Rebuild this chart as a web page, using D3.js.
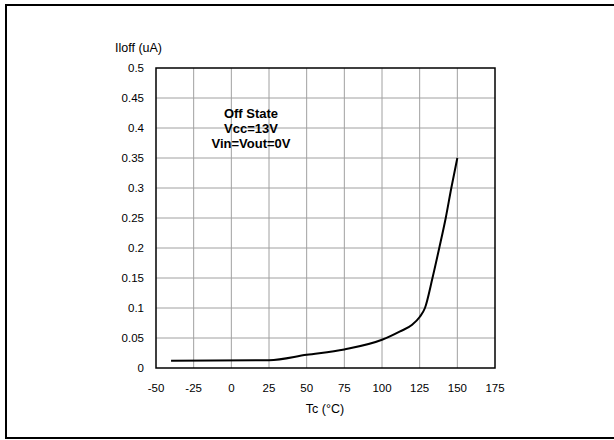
<!DOCTYPE html>
<html><head><meta charset="utf-8">
<script src="https://cdn.jsdelivr.net/npm/d3@7"></script>
<style>body{margin:0;background:#fff;}svg{display:block;font-family:"Liberation Sans",Arial,sans-serif;}</style>
</head><body><svg id="c" width="614" height="440"></svg>
<script>
const xTicks = [-50,-25,0,25,50,75,100,125,150,175];
const yTicks = [0,0.05,0.1,0.15,0.2,0.25,0.3,0.35,0.4,0.45,0.5];
const yTickLabels = ["0","0.05","0.1","0.15","0.2","0.25","0.3","0.35","0.4","0.45","0.5"];
const temps =  [-40, 25, 50, 75, 100, 112, 120, 125, 128.5, 133.5, 138, 142.3, 146, 150];
const ioff =   [0.012, 0.013, 0.022, 0.031, 0.047, 0.061, 0.072, 0.085, 0.1, 0.15, 0.2, 0.25, 0.3, 0.35];
const yTitle = "Iloff (uA)";
const xTitle = "Tc (\u00B0C)";
const notes = ["Off State","Vcc=13V","Vin=Vout=0V"];

const svg = d3.select("#c");
const m = {l:156, t:68, r:495, b:368};
const x = d3.scaleLinear().domain([-50,175]).range([m.l,m.r]);
const y = d3.scaleLinear().domain([0,0.5]).range([m.b,m.t]);

// outer frame
svg.append("path").attr("d","M620,5 H6 V438 H620").attr("fill","none").attr("stroke","#000").attr("stroke-width",2);

// grid
const g = svg.append("g");
g.selectAll(".vx").data(xTicks.slice(1,-1)).join("line")
  .attr("x1",d=>x(d)).attr("x2",d=>x(d)).attr("y1",m.t).attr("y2",m.b)
  .attr("stroke","#a0a0a0").attr("stroke-width",1);
g.selectAll(".hy").data(yTicks.slice(1,-1)).join("line")
  .attr("y1",d=>y(d)).attr("y2",d=>y(d)).attr("x1",m.l).attr("x2",m.r)
  .attr("stroke","#a0a0a0").attr("stroke-width",1);
svg.append("rect").attr("x",m.l).attr("y",m.t).attr("width",m.r-m.l).attr("height",m.b-m.t)
  .attr("fill","none").attr("stroke","#000").attr("stroke-width",1.5);

// axis labels
svg.append("g").selectAll("text").data(yTicks).join("text")
  .attr("x",m.l-12).attr("y",d=>y(d)).attr("dy","0.36em").attr("text-anchor","end")
  .attr("font-size",11.5).attr("fill","#000").text((d,i)=>yTickLabels[i]);
svg.append("g").selectAll("text").data(xTicks).join("text")
  .attr("x",d=>x(d)).attr("y",m.b+24).attr("text-anchor","middle")
  .attr("font-size",11.5).attr("fill","#000").text(d=>d);
svg.append("text").attr("x",115).attr("y",52).attr("font-size",12.5).text(yTitle);
svg.append("text").attr("x",325).attr("y",413).attr("text-anchor","middle").attr("font-size",12.5).text(xTitle);

// notes
svg.append("g").selectAll("text").data(notes).join("text")
  .attr("x",251).attr("y",(d,i)=>118+i*15).attr("text-anchor","middle")
  .attr("font-size",13).attr("font-weight","bold").text(d=>d);

// curve
const line = d3.line().x(d=>x(d[0])).y(d=>y(d[1])).curve(d3.curveMonotoneX);
svg.append("path").datum(temps.map((t,i)=>[t,ioff[i]]))
  .attr("d",line).attr("fill","none").attr("stroke","#000").attr("stroke-width",2);
</script></body></html>
